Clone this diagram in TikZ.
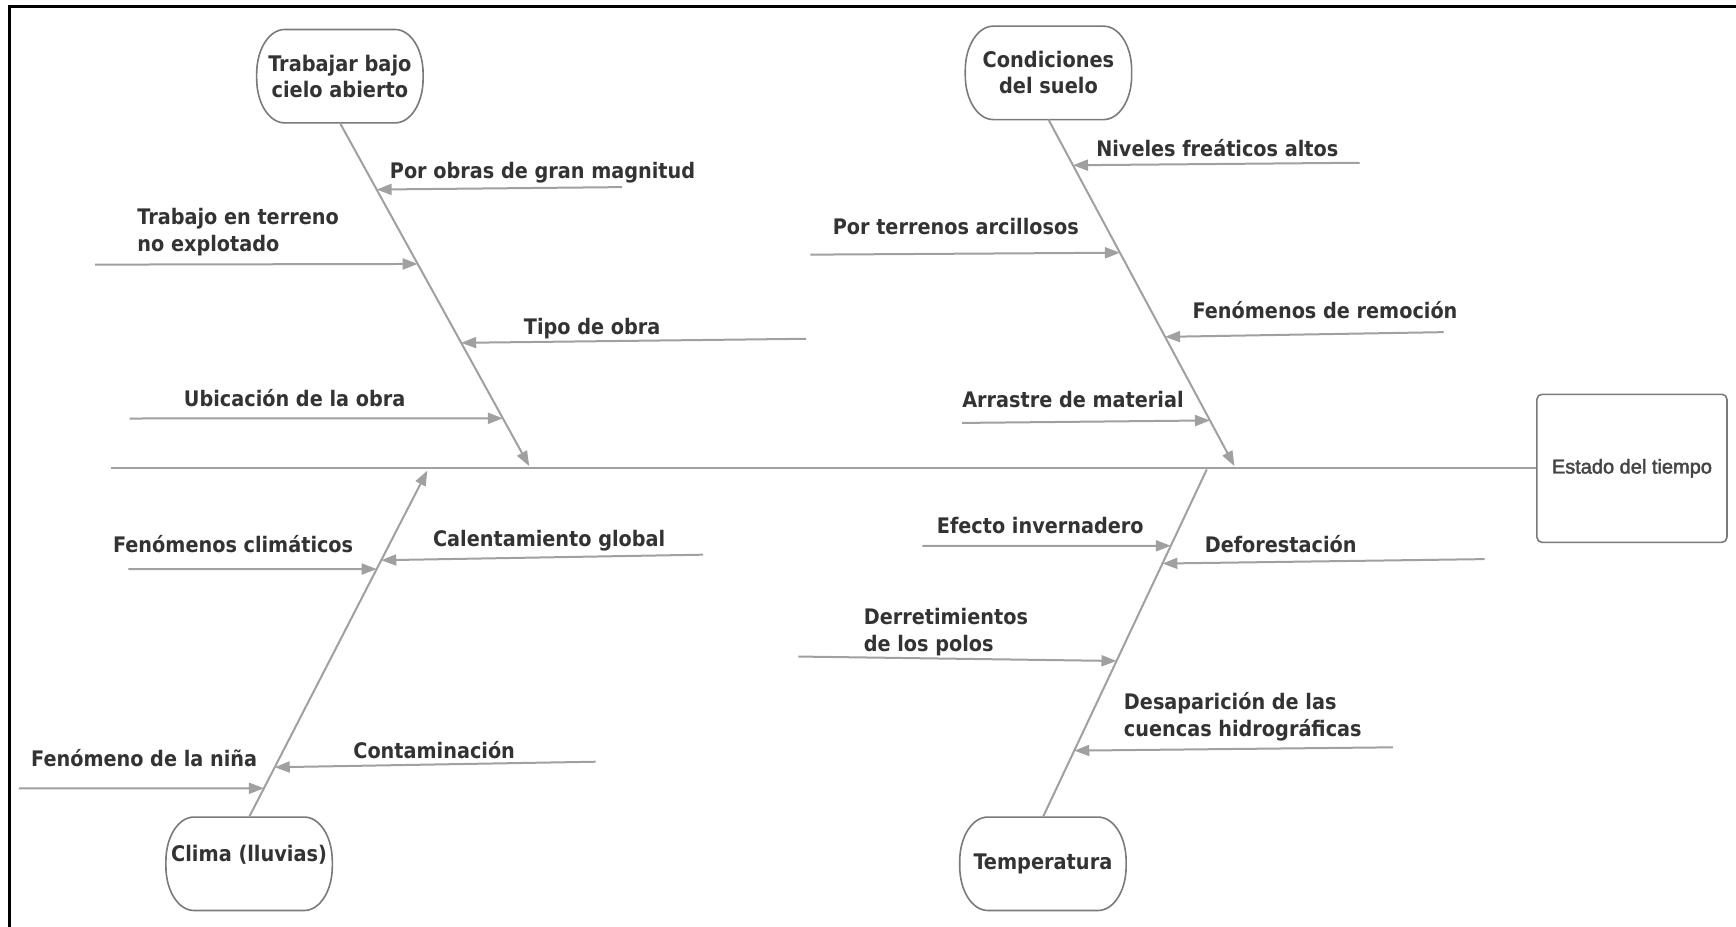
\documentclass[tikz,border=0pt]{standalone}
\usepackage{fontspec}
\newfontfamily\lblfont{DejaVu Sans Condensed Bold}
\newfontfamily\effectfont{Liberation Sans}[FakeBold=2.2]
\usetikzlibrary{arrows.meta,calc}
\definecolor{bonegray}{HTML}{A0A0A0}
\definecolor{boxgray}{HTML}{7A7A7A}
\definecolor{txtgray}{HTML}{333333}
\definecolor{effecttxt}{HTML}{454545}

% capsule outline with elliptical corners around a named node
\newcommand\capsule[1]{%
  \draw[boxline] ($(#1.north west)+(28pt,0pt)$) -- ($(#1.north east)+(-28pt,0pt)$)
    .. controls +(15.5pt,0pt) and +(0pt,24.3pt) .. ($(#1.north east)+(0pt,-44pt)$)
    -- ($(#1.south east)+(0pt,44pt)$)
    .. controls +(0pt,-24.3pt) and +(15.5pt,0pt) .. ($(#1.south east)+(-28pt,0pt)$)
    -- ($(#1.south west)+(28pt,0pt)$)
    .. controls +(-15.5pt,0pt) and +(0pt,-24.3pt) .. ($(#1.south west)+(0pt,44pt)$)
    -- ($(#1.north west)+(0pt,-44pt)$)
    .. controls +(0pt,24.3pt) and +(-15.5pt,0pt) .. ($(#1.north west)+(28pt,0pt)$)
    -- cycle;}

\begin{document}
\begin{tikzpicture}[x=1.10714pt,y=-1.10714pt,
  bone/.style={draw=bonegray, line width=2pt},
  cause/.style={bone, -{Triangle[length=15pt,width=11pt]}, fill=bonegray},
  boxline/.style={draw=boxgray, line width=1.6pt},
  catbox/.style={minimum width=166pt, minimum height=93pt, inner sep=0pt, align=center,
    text=txtgray, font=\lblfont\fontsize{21.5}{26}\selectfont},
  effectbox/.style={draw=boxgray, line width=1.6pt, rounded corners=5pt,
    minimum width=190pt, minimum height=148pt, inner sep=0pt,
    text=effecttxt, font=\effectfont\fontsize{20}{24}\selectfont},
  lbl/.style={anchor=base west, align=left, inner sep=0pt, text=txtgray,
    font=\lblfont\fontsize{21.4}{27}\selectfont},
]
\useasboundingbox (0,0) rectangle (1568,837);

% outer frame (left and top edges only)
\draw[black, line width=3.2pt] (8.6,837) -- (8.6,5.6) -- (1568,5.6);

% effect and main spine
\node[effectbox] (effect) at (1474,423) {Estado del tiempo};
\coordinate (spine-start) at (100,423);
\draw[bone] (spine-start) -- (effect.west);

% category boxes
\node[catbox, anchor=south] (tl) at (307,111) {Trabajar bajo\\cielo abierto};
\node[catbox, anchor=south] (tr) at (947,108) {Condiciones\\del suelo};
\node[catbox, anchor=north] (bl) at (225,738) {\raisebox{9pt}[\height][\depth]{Clima (lluvias)}};
\node[catbox, anchor=north] (br) at (942,738) {Temperatura};
\capsule{tl}
\capsule{tr}
\capsule{bl}
\capsule{br}

% bone heads on the spine
\coordinate (tl-head) at (478,421);
\coordinate (tr-head) at (1115,421);
\coordinate (bl-head) at (386,425);
\coordinate (br-head) at (1090,424);

\draw[cause] (tl.south) -- (tl-head);
\draw[cause] (tr.south) -- (tr-head);
\draw[cause] (bl.north) -- (bl-head);
\draw[bone]  (br.north) -- (br-head);

% points where the causes meet each bone
\coordinate (tl-1) at ($(tl.south)!0.1942!(tl-head)$);
\coordinate (tl-2) at ($(tl.south)!0.4110!(tl-head)$);
\coordinate (tl-3) at ($(tl.south)!0.6408!(tl-head)$);
\coordinate (tl-4) at ($(tl.south)!0.8608!(tl-head)$);
\coordinate (tr-1) at ($(tr.south)!0.1318!(tr-head)$);
\coordinate (tr-2) at ($(tr.south)!0.3842!(tr-head)$);
\coordinate (tr-3) at ($(tr.south)!0.6270!(tr-head)$);
\coordinate (tr-4) at ($(tr.south)!0.8682!(tr-head)$);
\coordinate (bl-1) at ($(bl.north)!0.0831!(bl-head)$);
\coordinate (bl-2) at ($(bl.north)!0.1438!(bl-head)$);
\coordinate (bl-3) at ($(bl.north)!0.7157!(bl-head)$);
\coordinate (bl-4) at ($(bl.north)!0.7412!(bl-head)$);
\coordinate (br-1) at ($(br.north)!0.1911!(br-head)$);
\coordinate (br-2) at ($(br.north)!0.4490!(br-head)$);
\coordinate (br-3) at ($(br.north)!0.7293!(br-head)$);
\coordinate (br-4) at ($(br.north)!0.7803!(br-head)$);

% free ends of the cause arrows
\coordinate (c-obras)    at (562,169);
\coordinate (c-trabajo)  at (86,239);
\coordinate (c-tipo)     at (728,306);
\coordinate (c-ubic)     at (117,378);
\coordinate (c-niveles)  at (1228,147);
\coordinate (c-terrenos) at (732,230);
\coordinate (c-remocion) at (1304,300);
\coordinate (c-arrastre) at (869,382);
\coordinate (c-nina)     at (17,712);
\coordinate (c-contam)   at (538,688);
\coordinate (c-climat)   at (116,514);
\coordinate (c-calent)   at (635,501);
\coordinate (c-desap)    at (1258,675);
\coordinate (c-derret)   at (721,593);
\coordinate (c-defor)    at (1341,505);
\coordinate (c-efecto)   at (833,493);

\draw[cause] (c-obras) -- (tl-1);
\draw[cause] (c-trabajo) -- (tl-2);
\draw[cause] (c-tipo) -- (tl-3);
\draw[cause] (c-ubic) -- (tl-4);
\draw[cause] (c-niveles) -- (tr-1);
\draw[cause] (c-terrenos) -- (tr-2);
\draw[cause] (c-remocion) -- (tr-3);
\draw[cause] (c-arrastre) -- (tr-4);
\draw[cause] (c-nina) -- (bl-1);
\draw[cause] (c-contam) -- (bl-2);
\draw[cause] (c-climat) -- (bl-3);
\draw[cause] (c-calent) -- (bl-4);
\draw[cause] (c-desap) -- (br-1);
\draw[cause] (c-derret) -- (br-2);
\draw[cause] (c-defor) -- (br-3);
\draw[cause] (c-efecto) -- (br-4);

% cause labels (two-line labels are placed by their last baseline)
\node[lbl] (l-obras)    at (352,161) {Por obras de gran magnitud};
\node[lbl] (l-trabajo)  at (124,227.5) {Trabajo en terreno\\no explotado};
\node[lbl] (l-tipo)     at (473,302) {Tipo de obra};
\node[lbl] (l-ubic)     at (166,367) {Ubicación de la obra};
\node[lbl] (l-niveles)  at (990,141) {Niveles freáticos altos};
\node[lbl] (l-terrenos) at (752,212) {Por terrenos arcillosos};
\node[lbl] (l-remocion) at (1077,288) {Fenómenos de remoción};
\node[lbl] (l-arrastre) at (869,368) {Arrastre de material};
\node[lbl] (l-climat)   at (102,499) {Fenómenos climáticos};
\node[lbl] (l-calent)   at (391,494) {Calentamiento global};
\node[lbl] (l-nina)     at (28,692) {Fenómeno de la niña};
\node[lbl] (l-contam)   at (319,685) {Contaminación};
\node[lbl] (l-efecto)   at (846,482) {Efecto invernadero};
\node[lbl] (l-defor)    at (1088,499) {Deforestación};
\node[lbl] (l-derret)   at (780,588.5) {Derretimientos\\de los polos};
\node[lbl] (l-desap)    at (1015,665.5) {Desaparición de las\\cuencas hidrográficas};
\end{tikzpicture}
\end{document}
